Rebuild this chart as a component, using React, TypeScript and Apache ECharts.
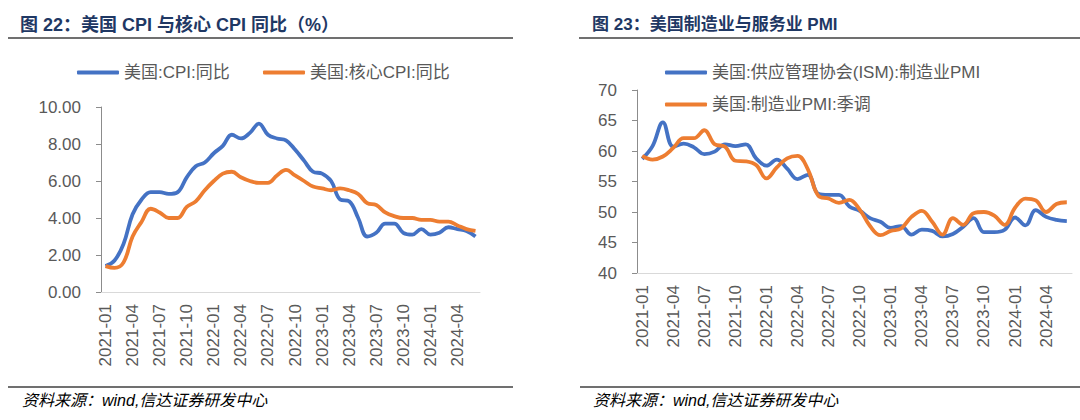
import React, { useEffect, useRef } from "react";
import * as echarts from "echarts";

const months: string[] = [
  "2021-01","2021-02","2021-03","2021-04","2021-05","2021-06","2021-07","2021-08","2021-09","2021-10","2021-11","2021-12",
  "2022-01","2022-02","2022-03","2022-04","2022-05","2022-06","2022-07","2022-08","2022-09","2022-10","2022-11","2022-12",
  "2023-01","2023-02","2023-03","2023-04","2023-05","2023-06","2023-07","2023-08","2023-09","2023-10","2023-11","2023-12",
  "2024-01","2024-02","2024-03","2024-04","2024-05","2024-06",
];

const cpiName = "美国:CPI:同比";
const cpi: number[] = [
  1.4, 1.7, 2.6, 4.2, 5.0, 5.4, 5.4, 5.3, 5.4, 6.2, 6.8, 7.0,
  7.5, 7.9, 8.5, 8.3, 8.6, 9.1, 8.5, 8.3, 8.2, 7.7, 7.1, 6.5,
  6.4, 6.0, 5.0, 4.9, 4.0, 3.0, 3.2, 3.7, 3.7, 3.2, 3.1, 3.4,
  3.1, 3.2, 3.5, 3.4, 3.3, 3.0,
];

const coreName = "美国:核心CPI:同比";
const coreCpi: number[] = [
  1.4, 1.3, 1.6, 3.0, 3.8, 4.5, 4.3, 4.0, 4.0, 4.6, 4.9, 5.5,
  6.0, 6.4, 6.5, 6.2, 6.0, 5.9, 5.9, 6.3, 6.6, 6.3, 6.0, 5.7,
  5.6, 5.5, 5.6, 5.5, 5.3, 4.8, 4.7, 4.3, 4.1, 4.0, 4.0, 3.9,
  3.9, 3.8, 3.8, 3.6, 3.4, 3.3,
];

const ismName = "美国:供应管理协会(ISM):制造业PMI";
const ismPmi: number[] = [
  58.7, 60.8, 64.7, 60.7, 61.2, 60.6, 59.5, 59.9, 61.1, 60.8, 61.1, 58.8,
  57.6, 58.6, 57.1, 55.4, 56.1, 53.0, 52.8, 52.8, 50.9, 50.2, 49.0, 48.4,
  47.4, 47.7, 46.3, 47.1, 46.9, 46.0, 46.4, 47.6, 49.0, 46.7, 46.7, 47.1,
  49.1, 47.8, 50.3, 49.2, 48.7, 48.5,
];

const mfgName = "美国:制造业PMI:季调";
const mfgPmi: number[] = [
  59.2, 58.6, 59.1, 60.5, 62.1, 62.1, 63.4, 61.1, 60.7, 58.4, 58.3, 57.7,
  55.5, 57.3, 58.8, 59.2, 57.0, 52.7, 52.2, 51.5, 52.0, 50.4, 47.7, 46.2,
  46.9, 47.3, 49.2, 50.2, 48.4, 46.3, 49.0, 47.9, 49.8, 50.0, 49.4, 47.9,
  50.7, 52.2, 51.9, 50.0, 51.3, 51.6,
];

const leftTitle = "图 22：美国 CPI 与核心 CPI 同比（%）";
const rightTitle = "图 23：美国制造业与服务业 PMI";
const sourceText = "资料来源：wind,信达证券研发中心";

const BLUE = "#4472C4";
const ORANGE = "#ED7D31";
const FONT = "'Liberation Sans', Arial, 'Noto Sans CJK SC', sans-serif";
const TITLE_FONT = "'Liberation Sans', Arial, 'Noto Sans CJK SC', sans-serif";
const LABEL_COLOR = "#595959";

function legendFor(name: string, left: number, top: number) {
  return {
    show: true,
    data: [name],
    left,
    top,
    icon: "roundRect",
    itemWidth: 42,
    itemHeight: 4,
    itemGap: 4,
    textStyle: { color: LABEL_COLOR, fontSize: 17, fontFamily: FONT, padding: [0, 0, 0, 0] },
    selectedMode: false,
  };
}

function xAxisFor(gridIndex: number) {
  return {
    type: "category",
    gridIndex,
    data: months,
    boundaryGap: true,
    axisTick: { show: false },
    axisLine: { show: true, lineStyle: { color: "#d9d9d9", width: 1 } },
    axisLabel: {
      interval: 2,
      rotate: 90,
      fontSize: 17,
      color: LABEL_COLOR,
      fontFamily: FONT,
      margin: 12,
    },
    splitLine: { show: false },
  };
}

function yAxisFor(gridIndex: number, min: number, max: number, interval: number, digits: number) {
  return {
    type: "value",
    gridIndex,
    min,
    max,
    interval,
    axisLine: { show: true, lineStyle: { color: "#8c8c8c", width: 1 } },
    axisTick: { show: true, length: 5, lineStyle: { color: "#8c8c8c" } },
    axisLabel: {
      fontSize: 17,
      color: LABEL_COLOR,
      fontFamily: FONT,
      margin: 20,
      formatter: (v: number) => v.toFixed(digits),
    },
    splitLine: { show: false },
  };
}

function lineSeries(name: string, data: number[], color: string, idx: number) {
  return {
    name,
    type: "line",
    xAxisIndex: idx,
    yAxisIndex: idx,
    data,
    smooth: 0.4,
    symbol: "none",
    lineStyle: { color, width: 3.8 },
    itemStyle: { color },
  };
}

export default function App() {
  const ref = useRef<HTMLDivElement>(null);

  useEffect(() => {
    if (!ref.current) return;
    const chart = echarts.init(ref.current, undefined, { renderer: "svg" });
    const option: any = {
      animation: false,
      backgroundColor: "#ffffff",
      grid: [
        { left: 101, top: 107, width: 379, height: 185, containLabel: false },
        { left: 637, top: 90, width: 435, height: 183, containLabel: false },
      ],
      legend: [
        legendFor(cpiName, 72, 59),
        legendFor(coreName, 258, 59),
        legendFor(ismName, 660, 59),
        legendFor(mfgName, 660, 91),
      ],
      xAxis: [xAxisFor(0), xAxisFor(1)],
      yAxis: [yAxisFor(0, 0, 10, 2, 2), yAxisFor(1, 40, 70, 5, 0)],
      series: [
        lineSeries(cpiName, cpi, BLUE, 0),
        lineSeries(coreName, coreCpi, ORANGE, 0),
        lineSeries(ismName, ismPmi, BLUE, 1),
        lineSeries(mfgName, mfgPmi, ORANGE, 1),
      ],
      graphic: [
        {
          type: "text",
          left: 20,
          top: 16,
          style: {
            text: leftTitle,
            fontSize: 18,
            fontWeight: "bold",
            fill: "#1F3864",
            fontFamily: TITLE_FONT,
          },
        },
        {
          type: "text",
          left: 592,
          top: 16,
          style: {
            text: rightTitle,
            fontSize: 17,
            fontWeight: "bold",
            fill: "#1F3864",
            fontFamily: TITLE_FONT,
          },
        },
        { type: "line", shape: { x1: 8, y1: 38, x2: 513, y2: 38 }, style: { stroke: "#404040", lineWidth: 1.5 } },
        { type: "line", shape: { x1: 579, y1: 38, x2: 1080, y2: 38 }, style: { stroke: "#404040", lineWidth: 1.5 } },
        { type: "line", shape: { x1: 8, y1: 387, x2: 513, y2: 387 }, style: { stroke: "#404040", lineWidth: 1.5 } },
        { type: "line", shape: { x1: 580, y1: 387, x2: 1080, y2: 387 }, style: { stroke: "#404040", lineWidth: 1.5 } },
        {
          type: "text",
          left: 22,
          top: 392,
          style: {
            text: sourceText,
            fontSize: 16,
            fontStyle: "italic",
            fill: "#000000",
            fontFamily: FONT,
          },
        },
        {
          type: "text",
          left: 593,
          top: 392,
          style: {
            text: sourceText,
            fontSize: 16,
            fontStyle: "italic",
            fill: "#000000",
            fontFamily: FONT,
          },
        },
      ],
    };
    chart.setOption(option);
    return () => chart.dispose();
  }, []);

  return (
    <div
      ref={ref}
      style={{ position: "fixed", left: 0, top: 0, width: 1080, height: 420, background: "#fff" }}
    />
  );
}
